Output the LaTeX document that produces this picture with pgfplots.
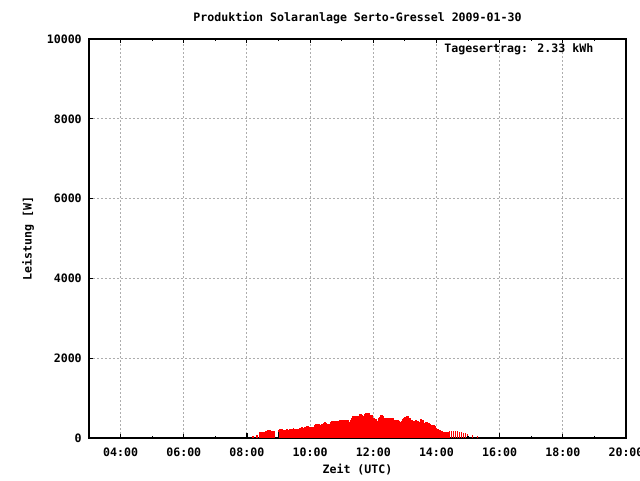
\documentclass[border=0pt]{standalone}
\usepackage{fontspec}
\setmainfont{DejaVu Sans Mono}
\usepackage{pgfplots}
\pgfplotsset{compat=1.18}
\begin{document}
\begin{tikzpicture}[font=\bfseries\fontsize{8.7}{10}\selectfont]
\useasboundingbox (-66.75pt,-31.5pt) rectangle (413.25pt,328.5pt);
\begin{axis}[
  at={(0,0)}, anchor=south west,
  scale only axis, width=402.75pt, height=299.25pt,
  xmin=3, xmax=20, ymin=0, ymax=10000,
  axis line style={line width=0.8pt},
  xtick={4,6,...,20},
  xticklabels={04:00,06:00,08:00,10:00,12:00,14:00,16:00,18:00,20:00},
  minor xtick={3,5,...,19},
  ytick={0,2000,4000,6000,8000,10000},
  yticklabels={0,2000,4000,6000,8000,10000},
  scaled y ticks=false,
  ytick pos=left,
  tick align=inside,
  major tick length=3.3pt, minor tick length=1.6pt,
  tick style={black, line width=0.8pt},
  grid=major,
  major grid style={black!32, dash pattern=on 1.5pt off 1.5pt, line width=0.75pt},
  /pgf/number format/assume math mode=true,
  xticklabel style={anchor=center, yshift=-10.5pt},
  yticklabel style={anchor=east, inner sep=0pt, xshift=-5.25pt},
  title={Produktion Solaranlage Serto-Gressel 2009-01-30},
  title style={at={(0.5,1)}, anchor=center, yshift=9.75pt},
  xlabel={Zeit (UTC)},
  xlabel style={at={(axis description cs:0.5,-0.0802)}, anchor=center},
  ylabel={Leistung [W]},
  ylabel style={at={(axis description cs:-0.1136,0.5)}, anchor=center},
]
\addplot[ycomb, red, line width=1.15pt, mark=none] coordinates {
(8.190,50)(8.317,75)(8.413,150)(8.476,150)(8.540,150)(8.603,175)(8.667,200)(8.730,200)
(8.794,175)(8.857,175)(8.994,200)(9.048,225)(9.102,225)(9.152,200)(9.206,200)(9.260,225)
(9.311,200)(9.365,225)(9.419,225)(9.470,250)(9.524,225)(9.578,225)(9.629,225)
(9.673,250)(9.705,250)(9.737,275)(9.768,250)(9.800,250)(9.832,275)
(9.8635,275)(9.8952,300)(9.9270,300)(9.9587,275)(9.9905,275)(10.0222,275)(10.0540,275)(10.0857,275)
(10.1492,325)(10.1810,350)(10.2127,350)(10.2444,350)(10.2762,350)(10.3079,325)(10.3397,325)
(10.3714,350)(10.4032,350)(10.4349,375)(10.4667,400)(10.4984,375)(10.5302,350)(10.5619,350)
(10.5937,350)(10.6254,350)(10.6571,400)(10.6889,425)(10.7206,425)(10.7524,425)(10.7841,425)
(10.8159,425)(10.8476,425)(10.8794,400)(10.9111,425)(10.9429,450)(10.9746,450)(11.0063,425)
(11.0381,450)(11.0698,450)(11.1016,425)(11.1333,450)(11.1651,450)(11.1968,450)(11.2286,400)
(11.2603,400)(11.2921,450)(11.3238,500)(11.3556,550)(11.3873,550)(11.4190,550)(11.4508,525)
(11.4825,550)(11.5143,550)(11.5460,500)(11.5778,600)(11.6095,600)(11.6413,575)(11.6730,550)
(11.7048,550)(11.7365,600)(11.7683,625)(11.8000,625)(11.8317,625)(11.8635,625)(11.8952,575)
(11.9270,575)(11.9587,575)(11.9905,500)(12.0222,500)(12.0540,475)(12.0857,475)(12.1175,425)
(12.1492,425)(12.1810,500)(12.2127,525)(12.2444,575)(12.2762,575)(12.3079,550)(12.3397,500)
(12.3714,500)(12.4032,425)(12.4349,500)(12.4667,450)(12.4984,500)(12.5302,500)(12.5619,475)
(12.5937,500)(12.6254,500)(12.6571,450)(12.6889,450)(12.7206,440)(12.7524,440)(12.7841,440)
(12.8159,425)(12.8476,400)(12.8794,400)(12.9111,425)(12.9429,475)(12.9746,500)(13.0063,525)
(13.0381,525)(13.0698,550)(13.1016,550)(13.1333,500)(13.1651,500)(13.1968,450)(13.2286,450)
(13.2603,425)(13.2921,425)(13.3238,425)(13.3556,450)(13.3873,425)(13.4190,425)(13.4508,350)
(13.4825,400)(13.5143,475)(13.5460,450)(13.5778,450)(13.6095,350)(13.6413,375)(13.6730,400)
(13.7048,400)(13.7365,375)(13.7683,375)(13.8000,350)(13.8317,325)(13.8635,325)(13.8952,325)
(13.9270,325)(13.9587,300)(13.9905,250)(14.0222,225)(14.0540,225)
(14.1175,200)(14.1810,175)(14.2444,150)(14.3079,150)(14.3619,150)(14.4190,175)(14.4762,175)
(14.5397,175)(14.6032,175)(14.6667,175)(14.7302,150)(14.7937,150)(14.8571,125)(14.9206,125)
(14.9841,100)(15.1429,75)(15.3016,50)
};
\addplot[ycomb, black, line width=1pt, mark=none] coordinates {
(8,125)(9,150)(15,50)(16,125)
};
\node[anchor=east, xshift=-21pt, yshift=-7.5pt] at (rel axis cs:1,1) {Tagesertrag: 2.33 kWh};
\end{axis}
\end{tikzpicture}
\end{document}
